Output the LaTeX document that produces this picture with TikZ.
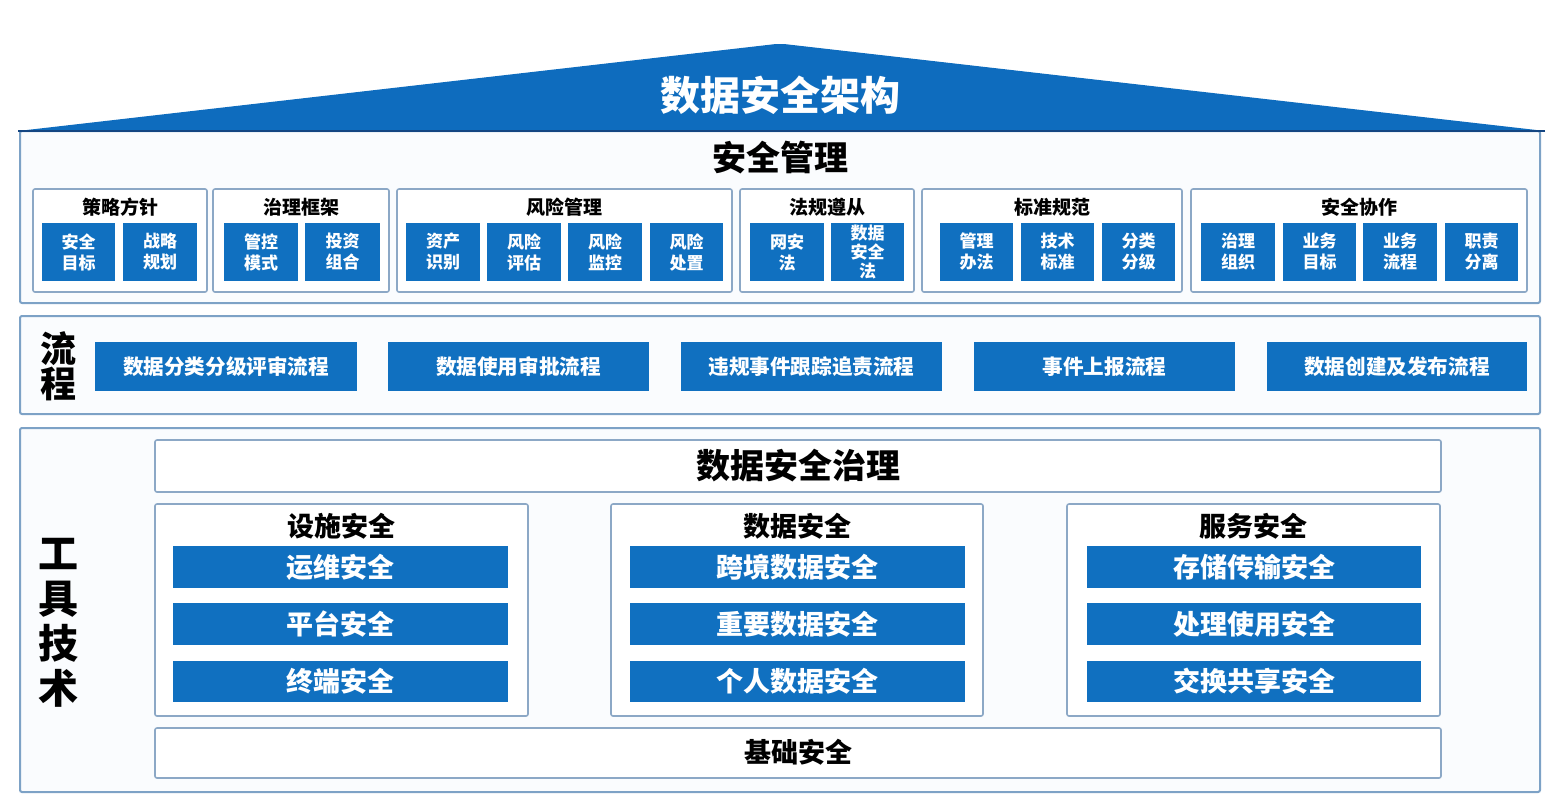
\documentclass[tikz,border=0pt]{standalone}
\usepackage{fontspec}
\setmainfont{Noto Sans CJK SC}
\definecolor{roofblue}{RGB}{14,108,190}
\definecolor{roofline}{RGB}{20,70,130}
\definecolor{cellblue}{RGB}{16,112,192}
\definecolor{framegray}{RGB}{125,162,198}
\definecolor{grpgray}{RGB}{140,168,198}
\definecolor{paper}{RGB}{250,252,254}
\tikzset{
  frame/.style={draw=framegray, line width=1pt, fill=paper, rounded corners=1pt},
  grp/.style={draw=grpgray, line width=0.8pt, fill=white, rounded corners=1pt},
  cell/.style={fill=cellblue},
  celltxt/.style={text=white, font=\bfseries\fontsize{8.5}{10.5}\selectfont, align=center, inner sep=0pt},
  grptxt/.style={font=\bfseries\fontsize{9.5}{11}\selectfont, inner sep=0pt},
  proctxt/.style={text=white, font=\bfseries\fontsize{10.3}{12}\selectfont, inner sep=0pt},
  bartxt/.style={text=white, font=\bfseries\fontsize{13.5}{15}\selectfont, inner sep=0pt},
  headtxt/.style={font=\bfseries\fontsize{17}{19}\selectfont, inner sep=0pt},
  subtxt/.style={font=\bfseries\fontsize{13.5}{15}\selectfont, inner sep=0pt},
  sidetxt/.style={align=center, inner sep=0pt}
}
\begin{document}
\begin{tikzpicture}[x=0.5pt,y=-0.5pt]
    \useasboundingbox (0,0) rectangle (1561,800);
    % roof
    \fill[roofblue] (18,131) -- (776,44) -- (784,44) -- (1545,131) -- cycle;
    \draw[roofline,line width=1pt] (18,131) -- (1545,131);
    \node[text=white,font=\bfseries\fontsize{20}{22}\selectfont,inner sep=0pt] (title) at (780,95) {数据安全架构};
    % security management
    \draw[frame] (20,131) rectangle (1540,303);
    \draw[roofline,line width=1pt] (18,131) -- (1545,131);
    \node[headtxt] (mgmt) at (780,158) {安全管理};
    \draw[grp] (33,189) rectangle (207,292);
    \draw[grp] (213,189) rectangle (389,292);
    \draw[grp] (397,189) rectangle (732,292);
    \draw[grp] (740,189) rectangle (914,292);
    \draw[grp] (922,189) rectangle (1182,292);
    \draw[grp] (1191,189) rectangle (1527,292);
    \node[grptxt] (g1) at (120,207) {策略方针};
    \node[grptxt] (g2) at (301,207) {治理框架};
    \node[grptxt] (g3) at (564,207) {风险管理};
    \node[grptxt] (g4) at (827,207) {法规遵从};
    \node[grptxt] (g5) at (1052,207) {标准规范};
    \node[grptxt] (g6) at (1359,207) {安全协作};
    \path[cell] (42,223) rectangle node[celltxt] (c11) {安全\\目标} (115,281);
    \path[cell] (123,223) rectangle node[celltxt] (c12) {战略\\规划} (197,281);
    \path[cell] (224,223) rectangle node[celltxt] (c21) {管控\\模式} (298,281);
    \path[cell] (305,223) rectangle node[celltxt] (c22) {投资\\组合} (380,281);
    \path[cell] (406,223) rectangle node[celltxt] (c31) {资产\\识别} (480,281);
    \path[cell] (487,223) rectangle node[celltxt] (c32) {风险\\评估} (561,281);
    \path[cell] (568,223) rectangle node[celltxt] (c33) {风险\\监控} (642,281);
    \path[cell] (650,223) rectangle node[celltxt] (c34) {风险\\处置} (723,281);
    \path[cell] (750,223) rectangle node[celltxt] (c41) {网安\\法} (824,281);
    \path[cell] (831,223) rectangle node[celltxt,font=\bfseries\fontsize{8.5}{9.5}\selectfont] (c42) {数据\\安全\\法} (904,281);
    \path[cell] (940,223) rectangle node[celltxt] (c51) {管理\\办法} (1013,281);
    \path[cell] (1021,223) rectangle node[celltxt] (c52) {技术\\标准} (1094,281);
    \path[cell] (1102,223) rectangle node[celltxt] (c53) {分类\\分级} (1175,281);
    \path[cell] (1201,223) rectangle node[celltxt] (c61) {治理\\组织} (1275,281);
    \path[cell] (1283,223) rectangle node[celltxt] (c62) {业务\\目标} (1356,281);
    \path[cell] (1363,223) rectangle node[celltxt] (c63) {业务\\流程} (1437,281);
    \path[cell] (1445,223) rectangle node[celltxt] (c64) {职责\\分离} (1518,281);
    % process
    \draw[frame] (20,316) rectangle (1540,414);
    \node[sidetxt,font=\bfseries\fontsize{18}{17.5}\selectfont] (proc) at (58,366) {流\\程};
    \path[cell] (95,342) rectangle node[proctxt] (p1) {数据分类分级评审流程} (357,391);
    \path[cell] (388,342) rectangle node[proctxt] (p2) {数据使用审批流程} (649,391);
    \path[cell] (681,342) rectangle node[proctxt] (p3) {违规事件跟踪追责流程} (942,391);
    \path[cell] (974,342) rectangle node[proctxt] (p4) {事件上报流程} (1235,391);
    \path[cell] (1267,342) rectangle node[proctxt] (p5) {数据创建及发布流程} (1527,391);
    % tools and technology
    \draw[frame] (20,428) rectangle (1540,792);
    \node[sidetxt,font=\bfseries\fontsize{20}{22.5}\selectfont] (tools) at (58,623) {工\\具\\技\\术};
    \draw[grp] (155,440) rectangle (1441,492);
    \node[headtxt] (gov) at (798,466) {数据安全治理};
    \draw[grp] (155,504) rectangle (528,716);
    \draw[grp] (611,504) rectangle (983,716);
    \draw[grp] (1067,504) rectangle (1440,716);
    \node[subtxt] (s1) at (341,526) {设施安全};
    \node[subtxt] (s2) at (797,526) {数据安全};
    \node[subtxt] (s3) at (1253,526) {服务安全};
    \path[cell] (173,546) rectangle node[bartxt] (b11) {运维安全} (508,588);
    \path[cell] (173,603) rectangle node[bartxt] (b12) {平台安全} (508,645);
    \path[cell] (173,661) rectangle node[bartxt] (b13) {终端安全} (508,702);
    \path[cell] (630,546) rectangle node[bartxt] (b21) {跨境数据安全} (965,588);
    \path[cell] (630,603) rectangle node[bartxt] (b22) {重要数据安全} (965,645);
    \path[cell] (630,661) rectangle node[bartxt] (b23) {个人数据安全} (965,702);
    \path[cell] (1087,546) rectangle node[bartxt] (b31) {存储传输安全} (1421,588);
    \path[cell] (1087,603) rectangle node[bartxt] (b32) {处理使用安全} (1421,645);
    \path[cell] (1087,661) rectangle node[bartxt] (b33) {交换共享安全} (1421,702);
    \draw[grp] (155,728) rectangle (1441,778);
    \node[subtxt] (base) at (798,752) {基础安全};
\end{tikzpicture}
\end{document}
